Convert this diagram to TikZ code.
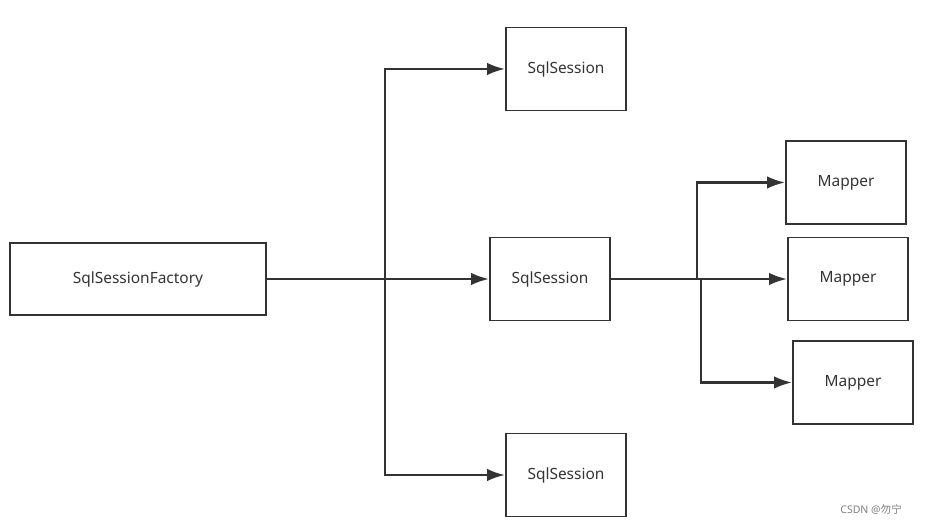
\documentclass[tikz,border=0pt]{standalone}
\usepackage{fontspec}
\setmainfont{Noto Sans}
\newfontfamily\cjk{Noto Sans CJK SC}
\usetikzlibrary{arrows.meta}
\definecolor{linegray}{HTML}{333333}
\begin{document}
\begin{tikzpicture}[x=0.02cm,y=-0.02cm,
  box/.style={draw=linegray,line width=1.1pt,minimum width=2.4cm,minimum height=1.66cm,font=\fontsize{8.8}{10}\selectfont,text=linegray},
  link/.style={draw=linegray,line width=1.4pt},
  >={Latex[length=3.6mm,width=2.5mm]}]
\useasboundingbox (0,0) rectangle (938,526);
\node[box,minimum width=5.12cm,minimum height=1.44cm] (fac) at (138,279) {SqlSessionFactory};
\node[box] (s1) at (566,69) {SqlSession};
\node[box] (s2) at (550,279) {SqlSession};
\node[box] (s3) at (566,475) {SqlSession};
\node[box] (m1) at (846,182.5) {Mapper};
\node[box] (m2) at (848,279) {Mapper};
\node[box] (m3) at (853,382.5) {Mapper};
\coordinate (j1) at (385,279);
\coordinate (j2) at (697,279);
\coordinate (j3) at (701,279);
\draw [link] (fac.east) -- (j1);
\draw [link,->] (j1) |- (s1.west);
\draw [link,->] (j1) -- (s2.west);
\draw [link,->] (j1) |- (s3.west);
\draw [link] (s2.east) -- (j2);
\draw [link,->] (j2) |- (m1.west);
\draw [link,->] (j2) -- (m2.west);
\draw [link,->] (j3) |- (m3.west);
\node[anchor=east,text=gray,font=\fontsize{6}{7}\selectfont] (mark) at (908,510) {CSDN @{\cjk 勿宁}};
\end{tikzpicture}
\end{document}
